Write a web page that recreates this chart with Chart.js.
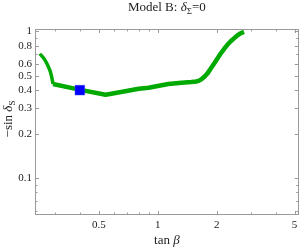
<!DOCTYPE html>
<html><head><meta charset="utf-8">
<script src="https://cdn.jsdelivr.net/npm/chart.js@4.4.0/dist/chart.umd.min.js"></script>
<style>html,body{margin:0;padding:0;background:#fff}#wrap{width:306px;height:248px}</style>
</head><body><div id="wrap"><canvas id="c" width="306" height="248"></canvas></div>
<script>
// ---- data ----
// upper-left branch (ends at the cusp)
const branchTanBeta = [0.2497, 0.265, 0.2806, 0.288, 0.2917];
const branchMinusSin = [0.705, 0.641, 0.548, 0.481, 0.438];
// main branch (from the cusp to the upper right)
const tanBeta = [0.2917, 0.4024, 0.542, 0.671, 0.799, 0.898, 1.00, 1.133, 1.322, 1.485, 1.574, 1.61, 1.65, 1.70, 1.75, 1.80, 1.87, 1.95, 2.03, 2.105, 2.19, 2.27, 2.36, 2.46, 2.53, 2.61, 2.69, 2.76];
const minusSinDeltaS = [0.438, 0.400, 0.370, 0.390, 0.407, 0.413, 0.425, 0.438, 0.447, 0.452, 0.456, 0.460, 0.467, 0.481, 0.499, 0.520, 0.561, 0.609, 0.662, 0.713, 0.765, 0.811, 0.858, 0.902, 0.932, 0.960, 0.981, 0.995];
const benchmarkTanBeta = [0.40];
const benchmarkSin = [0.398];
const xTickLabels = [0.5, 1, 2, 5];
const xMinorTicks = [0.3, 0.4, 0.6, 0.7, 0.8, 0.9, 3, 4];
const yTickLabels = [0.1, 0.2, 0.3, 0.4, 0.5, 0.6, 0.8, 1];
const yMinorTicks = [0.06, 0.07, 0.08, 0.09, 0.7, 0.9];

const SERIF = '"Liberation Serif", "DejaVu Serif", serif';
const TXT = '#222';
const FRAME = '#9a9a9a';
const GREEN = 'rgb(0,170,0)';

function drawRich(ctx, parts, x, y, align) {
  let total = 0;
  parts.forEach(p => { ctx.font = p.font; p.w = ctx.measureText(p.t).width; total += p.w; });
  let cx = align === 'center' ? x - total / 2 : x;
  ctx.textAlign = 'left';
  ctx.textBaseline = 'alphabetic';
  parts.forEach(p => { ctx.font = p.font; ctx.fillText(p.t, cx, y + (p.dy || 0)); cx += p.w; });
}

const framePlugin = {
  id: 'frameTicks',
  afterDraw(chart) {
    const ctx = chart.ctx, a = chart.chartArea;
    const xs = chart.scales.x, ys = chart.scales.y;
    ctx.save();
    ctx.strokeStyle = FRAME;
    ctx.lineWidth = 1;
    ctx.strokeRect(Math.round(a.left) + 0.5, Math.round(a.top) + 0.5, Math.round(a.right - a.left) - 1, Math.round(a.bottom - a.top) - 1);
    const major = 4, minor = 2.5;
    ctx.beginPath();
    const xt = xTickLabels.map(v => [v, major]).concat(xMinorTicks.map(v => [v, minor]));
    xt.forEach(([v, L]) => {
      const p = Math.round(xs.getPixelForValue(v)) + 0.5;
      ctx.moveTo(p, a.bottom); ctx.lineTo(p, a.bottom - L);
      ctx.moveTo(p, a.top); ctx.lineTo(p, a.top + L);
    });
    const yt = yTickLabels.map(v => [v, major]).concat(yMinorTicks.map(v => [v, minor]));
    yt.forEach(([v, L]) => {
      const p = Math.round(ys.getPixelForValue(v)) + 0.5;
      ctx.moveTo(a.left, p); ctx.lineTo(a.left + L, p);
      ctx.moveTo(a.right, p); ctx.lineTo(a.right - L, p);
    });
    ctx.stroke();

    ctx.fillStyle = TXT;
    const cxPlot = (a.left + a.right) / 2;
    drawRich(ctx, [
      { t: 'Model B: ', font: '13px ' + SERIF },
      { t: 'δ', font: 'italic 13px ' + SERIF },
      { t: 'Σ', font: '9px ' + SERIF, dy: 3 },
      { t: '=0', font: '13px ' + SERIF }
    ], cxPlot, 11, 'center');
    drawRich(ctx, [
      { t: 'tan ', font: '13px ' + SERIF },
      { t: 'β', font: 'italic 13px ' + SERIF }
    ], cxPlot, 244, 'center');
    ctx.save();
    ctx.translate(12, (a.top + a.bottom) / 2 - 3);
    ctx.rotate(-Math.PI / 2);
    drawRich(ctx, [
      { t: '\u2212sin ', font: '13px ' + SERIF },
      { t: 'δ', font: 'italic 13px ' + SERIF },
      { t: 'S', font: '9px ' + SERIF, dy: 3 }
    ], 0, 0, 'center');
    ctx.restore();
    ctx.restore();
  }
};

const tickFont = { family: SERIF, size: 11 };

new Chart(document.getElementById('c'), {
  type: 'scatter',
  data: {
    datasets: [
      {
        label: 'benchmark',
        data: benchmarkTanBeta.map((x, i) => ({ x, y: benchmarkSin[i] })),
        pointStyle: 'rect',
        pointRadius: 6.8,
        backgroundColor: '#0000ff',
        borderColor: '#3a3aff',
        borderWidth: 0.5,
        order: 0
      },
      {
        label: 'branch',
        data: branchTanBeta.map((x, i) => ({ x, y: branchMinusSin[i] })),
        showLine: true,
        borderColor: GREEN,
        borderWidth: 3.5,
        pointRadius: 0,
        tension: 0.4,
        borderJoinStyle: 'round',
        borderCapStyle: 'butt',
        order: 2
      },
      {
        label: 'main',
        data: tanBeta.map((x, i) => ({ x, y: minusSinDeltaS[i] })),
        showLine: true,
        borderColor: GREEN,
        borderWidth: 4.5,
        pointRadius: 0,
        tension: 0,
        borderJoinStyle: 'round',
        borderCapStyle: 'butt',
        order: 1
      }
    ]
  },
  options: {
    responsive: false,
    animation: false,
    devicePixelRatio: 1,
    layout: { padding: { top: 29, right: 4, left: 0, bottom: 0 } },
    plugins: { legend: { display: false }, title: { display: false }, tooltip: { enabled: false } },
    scales: {
      x: {
        type: 'logarithmic', min: 0.236, max: 5.25,
        grid: { display: false, drawTicks: false },
        border: { display: false },
        ticks: { padding: 4, font: tickFont, color: TXT, autoSkip: false, maxRotation: 0, callback: v => String(v) },
        afterBuildTicks: s => { s.ticks = xTickLabels.map(v => ({ value: v })); },
        afterFit: s => { s.height = 33; }
      },
      y: {
        type: 'logarithmic', min: 0.056, max: 1.04,
        grid: { display: false, drawTicks: false },
        border: { display: false },
        ticks: { padding: 3, font: tickFont, color: TXT, autoSkip: false, callback: v => String(v) },
        afterBuildTicks: s => { s.ticks = yTickLabels.map(v => ({ value: v })); },
        afterFit: s => { s.width = 35; }
      }
    }
  },
  plugins: [framePlugin]
});
</script></body></html>
